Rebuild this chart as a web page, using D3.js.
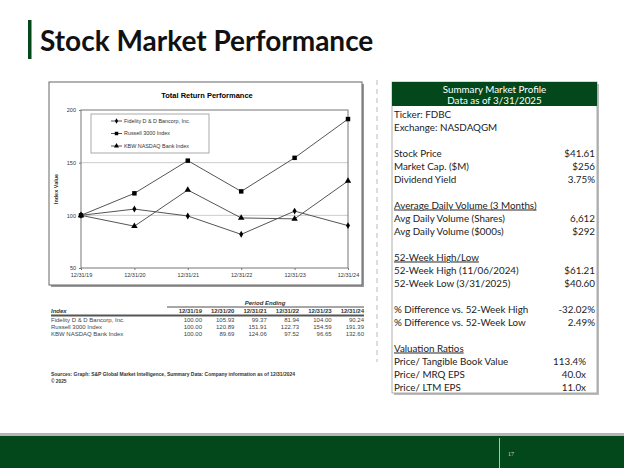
<!DOCTYPE html>
<meta charset="utf-8">
<head>
<script src="https://cdn.jsdelivr.net/npm/d3@7"></script>
<style>
  body { margin: 0; background: #fff; }
  svg { display: block; }
</style>
</head>
<body>
<script>
// ---- data ----
var periods = ["12/31/19", "12/31/20", "12/31/21", "12/31/22", "12/31/23", "12/31/24"];
var seriesNames = ["Fidelity D & D Bancorp, Inc.", "Russell 3000 Index", "KBW NASDAQ Bank Index"];
var fidelity = [100.00, 105.93, 99.37, 81.94, 104.00, 90.24];
var russell = [100.00, 120.89, 151.91, 122.73, 154.59, 191.39];
var kbw = [100.00, 89.69, 124.06, 97.52, 96.65, 132.60];
var yTicks = [50, 100, 150, 200];
var markers = ["diamond", "square", "triangle"];

var profileRows = [
  ["Ticker: FDBC", ""], ["Exchange: NASDAQGM", ""], ["", ""],
  ["Stock Price", "$41.61"], ["Market Cap. ($M)", "$256"], ["Dividend Yield", "3.75%"], ["", ""],
  ["Average Daily Volume (3 Months)", "", "u"], ["Avg Daily Volume (Shares)", "6,612"], ["Avg Daily Volume ($000s)", "$292"], ["", ""],
  ["52-Week High/Low", "", "u"], ["52-Week High (11/06/2024)", "$61.21"], ["52-Week Low (3/31/2025)", "$40.60"], ["", ""],
  ["% Difference vs. 52-Week High", "-32.02%"], ["% Difference vs. 52-Week Low", "2.49%"], ["", ""],
  ["Valuation Ratios", "", "u"], ["Price/ Tangible Book Value", "113.4%", "v"], ["Price/ MRQ EPS", "40.0x", "v"], ["Price/ LTM EPS", "11.0x", "v"]
];

var w = 624, h = 468;
var green = "#03481b";
var svg = d3.select("body").append("svg").attr("width", w).attr("height", h);

// ---- slide title ----
svg.append("rect").attr("x", 28).attr("y", 20).attr("width", 3.5).attr("height", 39).attr("fill", green);
svg.append("text").attr("x", 40).attr("y", 51)
  .style("font-family", "Lato").style("font-weight", "bold").style("font-size", "28px")
  .attr("fill", "#111").text("Stock Market Performance");

// ---- chart frame ----
svg.append("rect").attr("x", 51).attr("y", 84).attr("width", 313).attr("height", 203).attr("fill", "#999");
svg.append("rect").attr("x", 49).attr("y", 82).attr("width", 313).attr("height", 203)
  .attr("fill", "#fff").attr("stroke", "#666").attr("stroke-width", 1);

svg.append("text").attr("x", 207).attr("y", 98).attr("text-anchor", "middle")
  .style("font-family", "Liberation Sans").style("font-weight", "bold").style("font-size", "7.5px")
  .text("Total Return Performance");

var plot = {left: 81, right: 348, top: 110, bottom: 268};
var x = d3.scalePoint().domain(periods).range([plot.left, plot.right]);
var y = d3.scaleLinear().domain([50, 200]).range([plot.bottom, plot.top]);

// gridlines
svg.append("g").selectAll("line").data([100, 150]).enter().append("line")
  .attr("x1", plot.left).attr("x2", plot.right)
  .attr("y1", function(d) { return y(d); }).attr("y2", function(d) { return y(d); })
  .attr("stroke", "#ccc").attr("stroke-width", 1);

svg.append("rect").attr("x", plot.left).attr("y", plot.top)
  .attr("width", plot.right - plot.left).attr("height", plot.bottom - plot.top)
  .attr("fill", "none").attr("stroke", "#777").attr("stroke-width", 1);

var yAxis = svg.append("g").attr("transform", "translate(" + plot.left + ",0)")
  .call(d3.axisLeft(y).tickValues(yTicks).tickSize(2).tickPadding(3));
var xAxis = svg.append("g").attr("transform", "translate(0," + plot.bottom + ")")
  .call(d3.axisBottom(x).tickSize(2).tickPadding(3));
[yAxis, xAxis].forEach(function(a) {
  a.select(".domain").remove();
  a.selectAll("line").attr("stroke", "#777");
  a.selectAll("text").style("font-family", "Liberation Sans").style("font-size", "5.5px").attr("fill", "#333");
});

svg.append("text").attr("transform", "translate(58,189) rotate(-90)").attr("text-anchor", "middle")
  .style("font-family", "Liberation Sans").style("font-weight", "bold").style("font-size", "5.5px")
  .attr("fill", "#333").text("Index Value");

// series
var allSeries = [fidelity, russell, kbw];
var line = d3.line().x(function(d, i) { return x(periods[i]); }).y(function(d) { return y(d); });
var symbolType = {diamond: d3.symbolDiamond, square: d3.symbolSquare, triangle: d3.symbolTriangle};
var symbolSize = {diamond: 14, square: 20, triangle: 18};

allSeries.forEach(function(vals, k) {
  svg.append("path").attr("d", line(vals)).attr("fill", "none").attr("stroke", "#555").attr("stroke-width", 1);
  svg.append("g").selectAll("path").data(vals).enter().append("path")
    .attr("transform", function(d, i) { return "translate(" + x(periods[i]) + "," + y(d) + ")"; })
    .attr("d", d3.symbol().type(symbolType[markers[k]]).size(symbolSize[markers[k]]))
    .attr("fill", "#000");
});

// legend
var lg = svg.append("g").attr("transform", "translate(91,114)");
lg.append("rect").attr("width", 118).attr("height", 39).attr("fill", "#fff").attr("stroke", "#aaa");
seriesNames.forEach(function(n, k) {
  var ly = 7 + k * 12.5;
  lg.append("line").attr("x1", 20).attr("x2", 31).attr("y1", ly).attr("y2", ly).attr("stroke", "#555");
  lg.append("path").attr("transform", "translate(25.5," + ly + ")")
    .attr("d", d3.symbol().type(symbolType[markers[k]]).size(symbolSize[markers[k]] * 0.6)).attr("fill", "#000");
  lg.append("text").attr("x", 33).attr("y", ly + 1.8)
    .style("font-family", "Liberation Sans").style("font-size", "5.4px").attr("fill", "#333").text(n);
});

// ---- data table ----
var colX = d3.scalePoint().domain(periods).range([202, 364]);
var tf = "Liberation Sans";
svg.append("text").attr("x", 265).attr("y", 305).attr("text-anchor", "middle")
  .style("font-family", tf).style("font-style", "italic").style("font-weight", "bold").style("font-size", "6px")
  .attr("fill", "#333").text("Period Ending");
svg.append("line").attr("x1", 167).attr("x2", 364).attr("y1", 307).attr("y2", 307).attr("stroke", "#222").attr("stroke-width", 0.8);
svg.append("text").attr("x", 51).attr("y", 313)
  .style("font-family", tf).style("font-style", "italic").style("font-weight", "bold").style("font-size", "6px")
  .attr("fill", "#333").text("Index");
svg.append("g").selectAll("text").data(periods).enter().append("text")
  .attr("x", function(d) { return colX(d); }).attr("y", 313).attr("text-anchor", "end")
  .style("font-family", tf).style("font-weight", "bold").style("font-size", "6px").attr("fill", "#333")
  .text(function(d) { return d; });
svg.append("line").attr("x1", 51).attr("x2", 364).attr("y1", 315.5).attr("y2", 315.5).attr("stroke", "#555").attr("stroke-width", 1.8);

allSeries.forEach(function(vals, k) {
  var ry = 322 + k * 7;
  svg.append("text").attr("x", 51).attr("y", ry)
    .style("font-family", tf).style("font-size", "6px").attr("fill", "#444").text(seriesNames[k]);
  svg.append("g").selectAll("text").data(vals).enter().append("text")
    .attr("x", function(d, i) { return colX(periods[i]); }).attr("y", ry).attr("text-anchor", "end")
    .style("font-family", tf).style("font-size", "6px").attr("fill", "#444")
    .text(function(d) { return d3.format(".2f")(d); });
});

svg.append("text").attr("x", 51).attr("y", 376).attr("textLength", 244).attr("lengthAdjust", "spacingAndGlyphs")
  .style("font-family", tf).style("font-weight", "bold").style("font-size", "4.8px").attr("fill", "#333")
  .text("Sources:  Graph: S&P Global Market Intelligence, Summary Data: Company information as of 12/31/2024");
svg.append("text").attr("x", 51).attr("y", 383)
  .style("font-family", tf).style("font-weight", "bold").style("font-size", "4.8px").attr("fill", "#333")
  .text("\u00a9 2025");

// ---- right panel ----
svg.append("line").attr("x1", 377).attr("x2", 377).attr("y1", 80).attr("y2", 362)
  .attr("stroke", "#bbb").attr("stroke-width", 1).attr("stroke-dasharray", "5,4");

var bx = 392, bw = 205, btop = 82, bbot = 393;
svg.append("rect").attr("x", bx + 2).attr("y", btop + 2).attr("width", bw).attr("height", bbot - btop).attr("fill", "#bbb");
svg.append("rect").attr("x", bx).attr("y", btop).attr("width", bw).attr("height", bbot - btop)
  .attr("fill", "#fff").attr("stroke", "#999").attr("stroke-width", 0.8);
svg.append("rect").attr("x", bx).attr("y", btop).attr("width", bw).attr("height", 24).attr("fill", green);
svg.append("text").attr("x", bx + bw / 2).attr("y", 93).attr("text-anchor", "middle")
  .style("font-family", "Lato").style("font-size", "9.8px").attr("fill", "#fff").text("Summary Market Profile");
svg.append("text").attr("x", bx + bw / 2).attr("y", 104).attr("text-anchor", "middle")
  .style("font-family", "Lato").style("font-size", "9.8px").attr("fill", "#fff").text("Data as of 3/31/2025");

var rowY = d3.scaleLinear().domain([0, profileRows.length - 1]).range([117.5, 390.5]);
profileRows.forEach(function(r, i) {
  if (r[0]) {
    var t = svg.append("text").attr("x", bx + 2).attr("y", rowY(i))
      .style("font-family", "Lato").style("font-size", "9.8px").attr("fill", "#222").text(r[0]);
    if (r[2] === "u") t.style("text-decoration", "underline");
  }
  if (r[1]) {
    svg.append("text").attr("x", r[2] === "v" ? 586 : 595).attr("y", rowY(i)).attr("text-anchor", "end")
      .style("font-family", "Lato").style("font-size", "9.8px").attr("fill", "#222").text(r[1]);
  }
});

// ---- footer ----
svg.append("rect").attr("x", 0).attr("y", 433).attr("width", w).attr("height", 4).attr("fill", "#b5b5b5");
svg.append("rect").attr("x", 0).attr("y", 436).attr("width", w).attr("height", 32).attr("fill", green);
svg.append("line").attr("x1", 499.5).attr("x2", 499.5).attr("y1", 438).attr("y2", 468).attr("stroke", "#ddd").attr("stroke-width", 0.8);
svg.append("text").attr("x", 511).attr("y", 456).attr("text-anchor", "middle")
  .style("font-family", "Liberation Serif").style("font-size", "6px").attr("fill", "#ddd").text("17");
</script>
</body>
</html>
